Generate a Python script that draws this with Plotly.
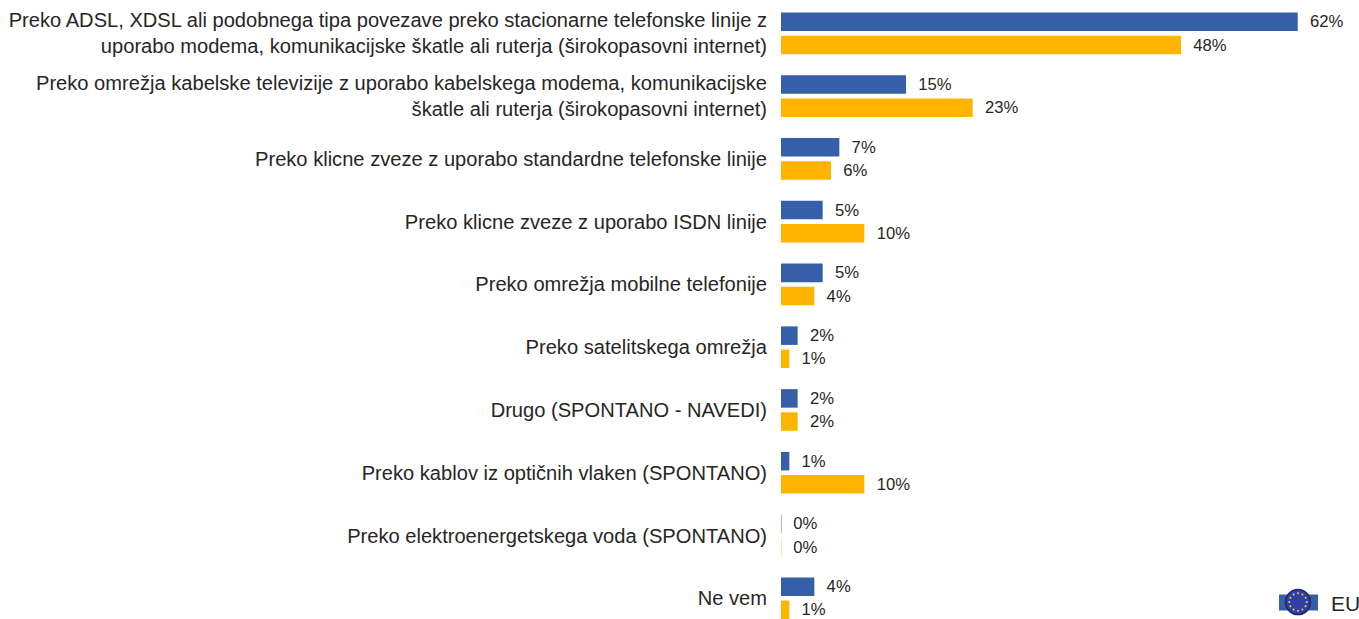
import math
import plotly.graph_objects as go

categories = [
    "Preko ADSL, XDSL ali podobnega tipa povezave preko stacionarne telefonske linije z<br>uporabo modema, komunikacijske škatle ali ruterja (širokopasovni internet)",
    "Preko omrežja kabelske televizije z uporabo kabelskega modema, komunikacijske<br>škatle ali ruterja (širokopasovni internet)",
    "Preko klicne zveze z uporabo standardne telefonske linije",
    "Preko klicne zveze z uporabo ISDN linije",
    "Preko omrežja mobilne telefonije",
    "Preko satelitskega omrežja",
    "Drugo (SPONTANO - NAVEDI)",
    "Preko kablov iz optičnih vlaken (SPONTANO)",
    "Preko elektroenergetskega voda (SPONTANO)",
    "Ne vem",
]
series_blue = [62, 15, 7, 5, 5, 2, 2, 1, 0, 4]
series_orange = [48, 23, 6, 10, 4, 1, 2, 10, 0, 1]
legend_label = "EU"
BLUE = "#3560A9"
ORANGE = "#FFB400"
TEXT = "#262626"
FONT = "Liberation Sans"
W, H = 1359, 619
LEFT, TOP = 781, 1.5


def px(x):
    return (x - LEFT) / (W - LEFT)


def py(y):
    return 1 - (y - TOP) / (H - TOP)


fig = go.Figure()
for vals, col, zero_col in ((series_blue, BLUE, "#8FA5CF"), (series_orange, ORANGE, "#FFE3A0")):
    fig.add_trace(go.Bar(
        y=categories, x=vals, orientation="h",
        marker=dict(color=col, line=dict(width=[1 if v == 0 else 0 for v in vals], color=zero_col)),
        text=[f"\u00a0\u00a0{v}%" for v in vals], textposition="outside", cliponaxis=False,
        textfont=dict(size=18, color=TEXT, family=FONT), showlegend=False,
    ))

shapes = [
    dict(type="rect", xref="paper", yref="paper", x0=px(1279), x1=px(1318), y0=py(610.5), y1=py(594.5),
         fillcolor=BLUE, line=dict(width=0)),
    dict(type="circle", xref="paper", yref="paper", x0=px(1285.5), x1=px(1310.5), y0=py(614.5), y1=py(589.5),
         fillcolor="#2F3FA6", line=dict(width=1.5, color="#1C2A66")),
]
for i in range(12):
    a = math.radians(30 * i)
    sx, sy = 1298 + 8.7 * math.cos(a), 602 + 8.7 * math.sin(a)
    shapes.append(dict(type="circle", xref="paper", yref="paper",
                       x0=px(sx - 1), x1=px(sx + 1), y0=py(sy + 1), y1=py(sy - 1),
                       fillcolor="#E8D840", line=dict(width=0)))

fig.update_layout(
    width=W, height=H, margin=dict(l=LEFT, r=0, t=TOP, b=0, pad=0),
    paper_bgcolor="white", plot_bgcolor="white",
    barmode="group", bargap=0.262, bargroupgap=0.2,
    font=dict(family=FONT, size=20, color=TEXT),
    xaxis=dict(visible=False, range=[0, 69.35], automargin=False),
    yaxis=dict(range=[9.33, -0.5], showline=False, showgrid=False, zeroline=False, ticks="",
               automargin=False, ticklabelstandoff=13,
               tickfont=dict(size=20.13, family=FONT, color=TEXT)),
    shapes=shapes,
    annotations=[dict(text=legend_label, xref="paper", yref="paper", x=px(1328.5), y=py(603),
                      xanchor="left", yanchor="middle", showarrow=False,
                      font=dict(size=21, family=FONT, color=TEXT))],
)
fig.write_html("out.html", config={"displayModeBar": False},
               post_script="document.body.style.margin='0';document.body.style.overflow='hidden';")
